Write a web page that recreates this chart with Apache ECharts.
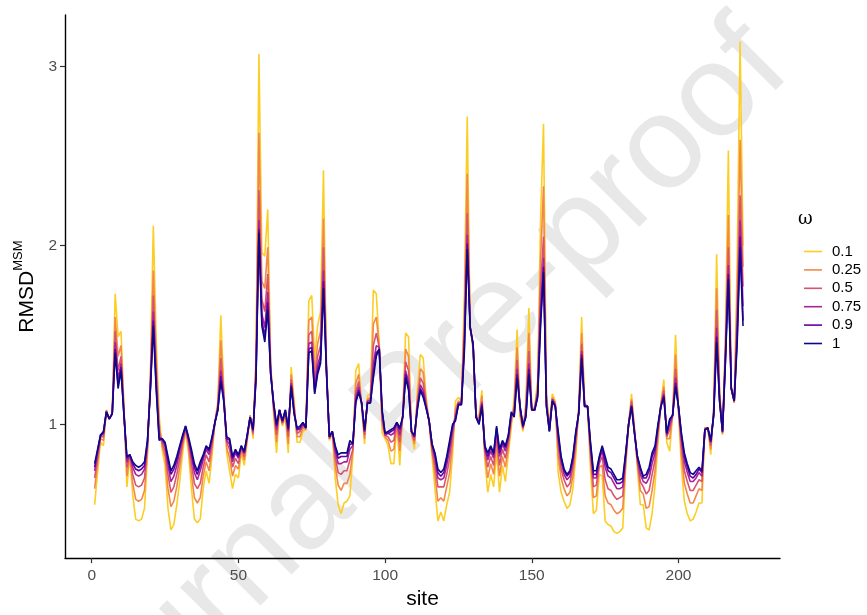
<!DOCTYPE html>
<html>
<head>
<meta charset="utf-8">
<script src="https://cdn.jsdelivr.net/npm/echarts@6/dist/echarts.min.js"></script>
<style>
html, body { margin: 0; padding: 0; background: #fff; }
#chart { width: 867px; height: 615px; }
</style>
</head>
<body>
<div id="chart"></div>
<script>
// omega levels and their colours (plasma)
const omegaLevels = ['0.1', '0.25', '0.5', '0.75', '0.9', '1'];
const lineColors = ['#FCCE25', '#F48849', '#D6556D', '#A8239A', '#6300A7', '#0D0887'];
const xTicks = [0, 50, 100, 150, 200];
const yTicks = [1, 2, 3];

// RMSD^MSM per site, one array per omega
const rmsd_01 = [
  .55,.73,.90,.88,1.08,1.03,1.06,1.73,1.49,1.52,
  1.10,.65,.82,.60,.47,.46,.47,.53,.82,1.28,
  2.11,1.46,1.05,.86,.77,.53,.41,.44,.55,.68,
  .84,.96,.84,.64,.47,.45,.47,.64,.74,.67,
  .82,1.01,1.13,1.61,1.21,.84,.74,.64,.72,.70,
  .84,.77,.90,1.05,.92,1.40,3.07,1.96,1.94,2.20,
  1.35,1.06,.84,1.08,.99,1.04,.84,1.32,1.13,.90,
  .90,.96,.97,1.69,1.72,1.37,1.55,1.63,2.42,1.35,
  .91,.95,.70,.55,.50,.56,.57,.60,.82,1.30,
  1.34,1.10,.89,1.16,1.17,1.75,1.73,1.45,.95,.92,
  .88,.78,.78,1.00,.77,1.06,1.51,1.49,.95,.86,
  1.19,1.39,1.37,1.15,1.01,.82,.64,.46,.51,.46,
  .55,.62,.83,1.13,1.15,1.13,1.70,2.72,1.55,1.41,
  1.05,1.05,1.19,.80,.62,.72,.65,.85,.62,.77,
  .68,.83,.98,1.15,1.53,1.04,.96,1.13,1.65,1.08,
  1.10,1.25,2.15,2.68,1.17,1.00,1.17,1.13,.73,.62,
  .57,.53,.55,.64,.82,1.10,1.60,1.12,1.10,.75,
  .50,.52,.72,.71,.46,.44,.43,.40,.39,.40,
  .42,.75,1.00,1.17,.98,.75,.55,.55,.42,.41,
  .50,.66,.89,1.12,1.25,.90,.85,1.05,1.50,1.07,
  .76,.57,.50,.46,.47,.51,.56,.56,.98,.98,
  .83,1.10,1.95,1.20,.94,1.50,2.53,1.20,1.12,1.90,
  3.14,2.00
];
const rmsd_025 = [
  .64,.78,.92,.91,1.08,1.03,1.06,1.60,1.38,1.44,
  1.08,.71,.82,.67,.58,.57,.58,.63,.85,1.25,
  1.86,1.36,1.00,.88,.82,.64,.54,.57,.65,.76,
  .88,.97,.87,.72,.59,.56,.59,.71,.79,.74,
  .86,1.01,1.11,1.47,1.18,.87,.81,.71,.77,.75,
  .86,.80,.92,1.05,.94,1.34,2.63,1.80,1.76,1.99,
  1.32,1.08,.90,1.08,1.00,1.06,.89,1.28,1.10,.93,
  .93,.98,.97,1.58,1.60,1.29,1.45,1.52,2.15,1.33,
  .92,.95,.77,.66,.63,.67,.67,.72,.85,1.23,
  1.28,1.11,.92,1.14,1.15,1.56,1.60,1.44,1.00,.93,
  .91,.85,.86,1.00,.85,1.05,1.42,1.38,.95,.89,
  1.15,1.31,1.29,1.13,1.01,.85,.72,.57,.59,.57,
  .65,.73,.89,1.09,1.13,1.12,1.59,2.40,1.55,1.43,
  1.05,1.03,1.16,.83,.70,.78,.72,.90,.71,.82,
  .76,.87,1.01,1.11,1.43,1.06,.97,1.10,1.51,1.08,
  1.09,1.21,1.92,2.33,1.14,.98,1.15,1.12,.82,.70,
  .64,.60,.62,.71,.87,1.08,1.51,1.11,1.10,.81,
  .59,.60,.76,.77,.60,.56,.55,.52,.50,.51,
  .53,.78,1.00,1.14,.97,.78,.63,.61,.53,.54,
  .63,.74,.93,1.11,1.21,.92,.92,1.05,1.39,1.08,
  .83,.67,.61,.56,.56,.60,.64,.63,.98,.98,
  .86,1.08,1.76,1.17,.95,1.44,2.17,1.20,1.12,1.73,
  2.59,1.88
];
const rmsd_05 = [
  .70,.81,.93,.93,1.07,1.03,1.06,1.52,1.30,1.38,
  1.07,.76,.83,.72,.66,.65,.66,.70,.88,1.22,
  1.72,1.29,.96,.90,.85,.72,.62,.65,.72,.81,
  .90,.98,.90,.78,.67,.64,.67,.76,.83,.79,
  .89,1.01,1.10,1.37,1.16,.90,.86,.76,.81,.78,
  .87,.82,.93,1.04,.95,1.30,2.31,1.70,1.63,1.84,
  1.31,1.10,.94,1.08,1.01,1.07,.93,1.25,1.09,.95,
  .96,.99,.98,1.50,1.52,1.24,1.38,1.44,1.99,1.32,
  .92,.96,.82,.73,.72,.74,.74,.80,.86,1.18,
  1.24,1.11,.94,1.13,1.14,1.44,1.51,1.43,1.03,.94,
  .93,.90,.91,1.01,.90,1.05,1.35,1.30,.96,.91,
  1.12,1.26,1.23,1.11,1.02,.86,.77,.65,.65,.65,
  .72,.81,.94,1.06,1.12,1.12,1.51,2.18,1.54,1.44,
  1.04,1.02,1.13,.85,.76,.82,.77,.94,.77,.86,
  .81,.90,1.04,1.08,1.36,1.08,.98,1.07,1.41,1.08,
  1.09,1.19,1.77,2.05,1.13,.97,1.14,1.11,.88,.75,
  .69,.65,.67,.76,.91,1.07,1.45,1.11,1.10,.85,
  .65,.66,.78,.82,.69,.64,.63,.60,.58,.59,
  .60,.81,1.00,1.13,.96,.79,.68,.65,.61,.63,
  .72,.80,.96,1.11,1.19,.93,.97,1.05,1.31,1.09,
  .88,.74,.68,.63,.63,.66,.69,.68,.97,.98,
  .88,1.07,1.64,1.16,.95,1.40,1.99,1.20,1.13,1.61,
  2.28,1.77
];
const rmsd_075 = [
  .74,.84,.93,.95,1.07,1.03,1.06,1.46,1.25,1.34,
  1.06,.79,.83,.76,.72,.71,.72,.75,.89,1.21,
  1.63,1.24,.93,.91,.88,.77,.68,.71,.77,.85,
  .92,.98,.91,.82,.73,.69,.74,.80,.86,.83,
  .91,1.01,1.09,1.30,1.14,.91,.89,.79,.84,.81,
  .87,.84,.93,1.04,.96,1.28,2.14,1.62,1.54,1.74,
  1.29,1.11,.97,1.08,1.01,1.07,.96,1.23,1.07,.97,
  .97,1.00,.98,1.45,1.46,1.20,1.33,1.39,1.86,1.31,
  .93,.96,.85,.78,.78,.79,.79,.86,.88,1.15,
  1.21,1.12,.96,1.13,1.13,1.34,1.44,1.43,1.06,.94,
  .95,.94,.95,1.01,.94,1.04,1.30,1.24,.96,.93,
  1.10,1.22,1.19,1.10,1.02,.88,.81,.70,.69,.70,
  .77,.86,.97,1.04,1.12,1.11,1.45,2.06,1.54,1.44,
  1.04,1.01,1.12,.87,.80,.85,.81,.97,.82,.89,
  .85,.92,1.05,1.06,1.31,1.09,.98,1.06,1.34,1.08,
  1.08,1.17,1.65,1.93,1.11,.97,1.14,1.11,.92,.79,
  .72,.69,.71,.79,.94,1.07,1.41,1.10,1.10,.87,
  .70,.70,.80,.85,.76,.71,.70,.67,.64,.64,
  .65,.82,1.00,1.11,.96,.81,.72,.68,.67,.70,
  .78,.84,.98,1.10,1.17,.94,1.00,1.05,1.26,1.09,
  .92,.79,.73,.68,.68,.70,.73,.71,.97,.98,
  .90,1.06,1.54,1.14,.96,1.38,1.89,1.20,1.13,1.53,
  2.14,1.66
];
const rmsd_09 = [
  .76,.85,.94,.95,1.07,1.03,1.06,1.42,1.22,1.32,
  1.05,.81,.83,.78,.75,.74,.75,.77,.90,1.20,
  1.58,1.21,.92,.92,.89,.80,.72,.75,.80,.87,
  .93,.99,.92,.84,.76,.72,.77,.82,.87,.85,
  .92,1.01,1.08,1.27,1.14,.92,.91,.81,.85,.82,
  .88,.84,.94,1.04,.97,1.26,2.09,1.58,1.49,1.68,
  1.28,1.12,.99,1.08,1.02,1.08,.97,1.22,1.06,.97,
  .98,1.01,.98,1.42,1.43,1.18,1.30,1.36,1.80,1.30,
  .93,.96,.87,.81,.82,.82,.82,.89,.89,1.13,
  1.19,1.12,.96,1.12,1.12,1.29,1.40,1.42,1.07,.95,
  .95,.96,.97,1.01,.97,1.04,1.28,1.21,.96,.93,
  1.09,1.20,1.17,1.09,1.02,.89,.83,.73,.71,.73,
  .80,.89,.99,1.03,1.11,1.11,1.42,2.01,1.54,1.45,
  1.04,1.00,1.11,.87,.82,.87,.83,.98,.84,.90,
  .87,.93,1.06,1.05,1.28,1.10,.99,1.05,1.31,1.08,
  1.08,1.16,1.59,1.88,1.10,.96,1.13,1.10,.94,.81,
  .74,.71,.73,.81,.95,1.06,1.39,1.10,1.10,.89,
  .72,.72,.81,.87,.79,.74,.73,.70,.67,.67,
  .68,.83,1.00,1.10,.95,.82,.75,.70,.70,.74,
  .82,.86,.99,1.10,1.16,.95,1.02,1.05,1.23,1.10,
  .94,.82,.76,.71,.70,.72,.75,.73,.97,.98,
  .90,1.05,1.49,1.13,.96,1.36,1.84,1.20,1.13,1.48,
  2.05,1.58
];
const rmsd_1 = [
  .78,.86,.94,.96,1.07,1.03,1.06,1.40,1.20,1.30,
  1.05,.82,.83,.79,.77,.76,.77,.79,.91,1.19,
  1.55,1.19,.91,.92,.90,.82,.74,.77,.82,.88,
  .94,.99,.93,.86,.78,.74,.79,.83,.88,.86,
  .93,1.01,1.08,1.24,1.13,.93,.92,.82,.86,.83,
  .88,.85,.94,1.04,.97,1.25,2.07,1.55,1.46,1.64,
  1.28,1.12,1.00,1.08,1.02,1.08,.98,1.21,1.06,.98,
  .99,1.01,.98,1.40,1.41,1.17,1.28,1.34,1.76,1.30,
  .93,.96,.88,.83,.84,.84,.84,.91,.89,1.12,
  1.18,1.12,.97,1.12,1.12,1.26,1.38,1.42,1.08,.95,
  .96,.97,.98,1.01,.98,1.04,1.26,1.19,.96,.94,
  1.08,1.19,1.15,1.09,1.02,.89,.84,.75,.73,.75,
  .82,.91,1.00,1.02,1.11,1.11,1.40,1.98,1.54,1.45,
  1.04,1.00,1.10,.88,.84,.88,.84,.99,.86,.91,
  .88,.94,1.07,1.04,1.26,1.10,.99,1.04,1.28,1.08,
  1.08,1.15,1.55,1.85,1.10,.96,1.13,1.10,.96,.82,
  .75,.72,.74,.82,.96,1.06,1.37,1.10,1.10,.90,
  .74,.74,.82,.88,.82,.76,.75,.72,.69,.69,
  .70,.84,1.00,1.10,.95,.82,.76,.71,.72,.76,
  .84,.88,1.00,1.10,1.15,.95,1.03,1.05,1.21,1.10,
  .95,.84,.78,.73,.72,.74,.76,.74,.97,.98,
  .91,1.05,1.46,1.13,.96,1.35,1.81,1.20,1.13,1.45,
  1.99,1.55
];

const seriesValues = [rmsd_01, rmsd_025, rmsd_05, rmsd_075, rmsd_09, rmsd_1];
const labelFont = 'Liberation Sans';

const chart = echarts.init(document.getElementById('chart'));

const series = omegaLevels.map((lvl, i) => ({
    name: lvl,
    type: 'line',
    data: seriesValues[i].map((v, j) => [j + 1, v]),
    showSymbol: false,
    symbol: 'none',
    lineStyle: { color: lineColors[i], width: 1.6 },
    itemStyle: { color: lineColors[i] },
    emphasis: { disabled: true },
    z: 2 + i
}));

chart.setOption({
    animation: false,
    backgroundColor: '#fff',
    grid: { left: 65, right: 87, top: 15, bottom: 40 },
    graphic: [
        {
            // "Journal Pre-proof" watermark
            type: 'text',
            left: 0, top: 0,
            x: 492, y: 350,
            rotation: Math.PI / 4,
            z: 0,
            silent: true,
            style: {
                text: 'Journal Pre-proof',
                font: '132px "Liberation Sans"',
                fill: '#e8e8e8',
                align: 'center',
                verticalAlign: 'middle'
            }
        },
        {
            type: 'text',
            left: 798, top: 210,
            style: { text: 'ω', font: '18px "DejaVu Serif"', fill: '#000' }
        }
    ],
    legend: {
        data: omegaLevels,
        orient: 'vertical',
        left: 799,
        top: 239,
        icon: 'rect',
        itemWidth: 18,
        itemHeight: 1.6,
        itemGap: 3.4,
        textStyle: { fontFamily: labelFont, fontSize: 15, color: '#000', lineHeight: 15, padding: [0, 0, 0, 5] }
    },
    xAxis: {
        type: 'value',
        min: -9.1,
        max: 234.6,
        name: 'site',
        nameLocation: 'middle',
        nameGap: 30,
        nameTextStyle: { fontFamily: labelFont, fontSize: 21, color: '#000' },
        axisLine: { onZero: false, lineStyle: { color: '#000', width: 1.4 } },
        axisTick: { customValues: xTicks, length: 5, lineStyle: { color: '#333', width: 1.2 } },
        axisLabel: { customValues: xTicks, fontFamily: labelFont, fontSize: 15.5, color: '#4d4d4d', margin: 10 },
        splitLine: { show: false }
    },
    yAxis: {
        type: 'value',
        min: 0.252,
        max: 3.288,
        name: '{a|RMSD}{b|MSM}',
        nameLocation: 'middle',
        nameGap: 24,
        nameTextStyle: {
            rich: {
                a: { fontFamily: labelFont, fontSize: 21, color: '#000', lineHeight: 26, verticalAlign: 'bottom' },
                b: { fontFamily: labelFont, fontSize: 13, color: '#000', lineHeight: 26, verticalAlign: 'top' }
            }
        },
        axisLine: { onZero: false, lineStyle: { color: '#000', width: 1.4 } },
        axisTick: { customValues: yTicks, length: 5, lineStyle: { color: '#333', width: 1.2 } },
        axisLabel: { customValues: yTicks, fontFamily: labelFont, fontSize: 15.5, color: '#4d4d4d', margin: 8 },
        splitLine: { show: false }
    },
    series: series
});
</script>
</body>
</html>
